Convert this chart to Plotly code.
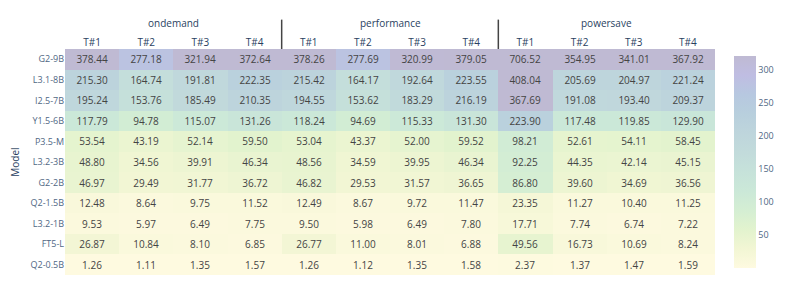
import plotly.graph_objects as go
from plotly.colors import sequential

models = ["G2-9B", "L3.1-8B", "I2.5-7B", "Y1.5-6B", "P3.5-M", "L3.2-3B", "G2-2B",
          "Q2-1.5B", "L3.2-1B", "FT5-L", "Q2-0.5B"]
governors = ["ondemand", "performance", "powersave"]
threads = ["T#1", "T#2", "T#3", "T#4"]

ondemand = [
    [378.44, 277.18, 321.94, 372.64],
    [215.30, 164.74, 191.81, 222.35],
    [195.24, 153.76, 185.49, 210.35],
    [117.79, 94.78, 115.07, 131.26],
    [53.54, 43.19, 52.14, 59.50],
    [48.80, 34.56, 39.91, 46.34],
    [46.97, 29.49, 31.77, 36.72],
    [12.48, 8.64, 9.75, 11.52],
    [9.53, 5.97, 6.49, 7.75],
    [26.87, 10.84, 8.10, 6.85],
    [1.26, 1.11, 1.35, 1.57],
]
performance = [
    [378.26, 277.69, 320.99, 379.05],
    [215.42, 164.17, 192.64, 223.55],
    [194.55, 153.62, 183.29, 216.19],
    [118.24, 94.69, 115.33, 131.30],
    [53.04, 43.37, 52.00, 59.52],
    [48.56, 34.59, 39.95, 46.34],
    [46.82, 29.53, 31.57, 36.65],
    [12.49, 8.67, 9.72, 11.47],
    [9.50, 5.98, 6.49, 7.80],
    [26.77, 11.00, 8.01, 6.88],
    [1.26, 1.12, 1.35, 1.58],
]
powersave = [
    [706.52, 354.95, 341.01, 367.92],
    [408.04, 205.69, 204.97, 221.24],
    [367.69, 191.08, 193.40, 209.37],
    [223.90, 117.48, 119.85, 129.90],
    [98.21, 52.61, 54.11, 58.45],
    [92.25, 44.35, 42.14, 45.15],
    [86.80, 39.60, 34.69, 36.56],
    [23.35, 11.27, 10.40, 11.25],
    [17.71, 7.74, 6.74, 7.22],
    [49.56, 16.73, 10.69, 8.24],
    [2.37, 1.37, 1.47, 1.59],
]

z = [a + b + c for a, b, c in zip(ondemand, performance, powersave)]
n_t = len(threads)
n_cols = len(governors) * n_t
col_idx = list(range(n_cols))
col_text = [t for _ in governors for t in threads]


def parse(c):
    if c.startswith("#"):
        return tuple(int(c[i:i + 2], 16) for i in (1, 3, 5))
    return tuple(int(float(v)) for v in c[c.index("(") + 1:-1].split(","))


alpha = 0.3
base = list(reversed(sequential.haline))
n = len(base)
cscale = []
for i, c in enumerate(base):
    r, g, b = parse(c)
    rr = round(255 * (1 - alpha) + r * alpha)
    gg = round(255 * (1 - alpha) + g * alpha)
    bb = round(255 * (1 - alpha) + b * alpha)
    cscale.append([i / (n - 1), f"rgb({rr},{gg},{bb})"])

fig = go.Figure(go.Heatmap(
    z=z,
    x=col_idx,
    y=models,
    colorscale=cscale,
    zmin=1.11,
    zmax=322,
    texttemplate="%{z:.2f}",
    textfont=dict(size=10, color="#444444", family="Open Sans"),
    colorbar=dict(
        thickness=22, len=0.94, x=1.029, xanchor="left", xpad=0,
        y=0.502, yanchor="middle", outlinewidth=0,
        tickvals=[50, 100, 150, 200, 250, 300],
        tickfont=dict(size=9, color="#506784"),
        ticklen=0, ypad=0,
    ),
))

for gi, g in enumerate(governors):
    fig.add_annotation(
        x=gi * n_t + (n_t - 1) / 2, y=1.115, xref="x", yref="paper",
        text=g, showarrow=False, xanchor="center", yanchor="middle",
        font=dict(size=10, color="#2a3f5f"),
    )
    if gi > 0:
        fig.add_shape(
            type="line", xref="x", yref="paper",
            x0=gi * n_t - 0.5, x1=gi * n_t - 0.5, y0=1.0, y1=1.13,
            line=dict(color="#444444", width=1.5),
        )

fig.update_layout(
    width=793, height=288,
    margin=dict(l=57, r=86, t=41, b=21, autoexpand=False),
    template="plotly",
    plot_bgcolor="white",
    paper_bgcolor="white",
    font=dict(family="Open Sans", color="#2a3f5f"),
    xaxis=dict(
        side="top", showgrid=False, zeroline=False,
        tickmode="array", tickvals=col_idx, ticktext=col_text,
        tickfont=dict(size=10, color="#2a3f5f"),
        ticks="", automargin=False, range=[-0.5, n_cols - 0.5],
    ),
    yaxis=dict(
        autorange="reversed", showgrid=False, zeroline=False,
        tickfont=dict(size=9, color="#506784"),
        title=dict(text="Model", font=dict(size=10, color="#2a3f5f"), standoff=13),
        ticks="", automargin=False,
    ),
)

fig.write_html("out.html")
